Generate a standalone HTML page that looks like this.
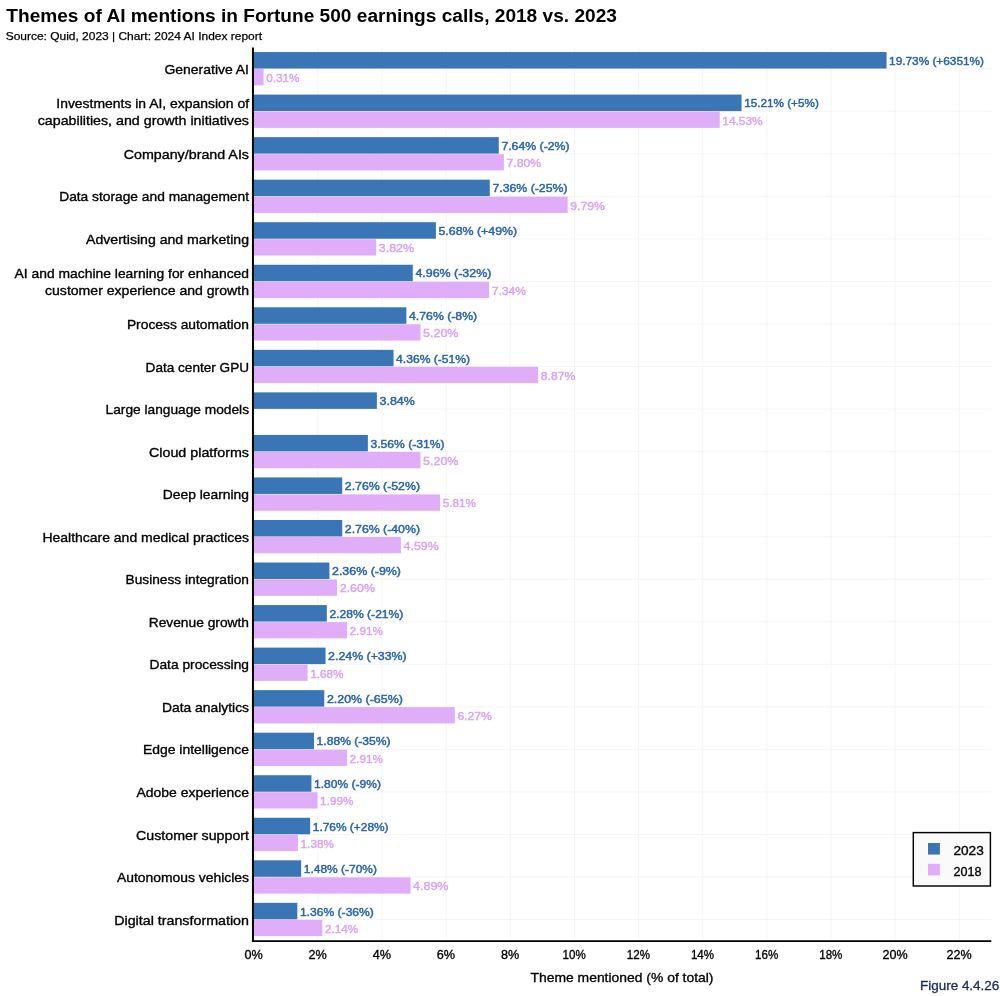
<!DOCTYPE html>
<html lang="en"><head><meta charset="utf-8"><title>Themes of AI mentions in Fortune 500 earnings calls, 2018 vs. 2023</title>
<style>
html,body{margin:0;padding:0;background:#fff;}
svg{display:block;}
text{font-family:"Liberation Sans",Arial,Helvetica,sans-serif;fill:#000;}
.title{font-size:18.8px;font-weight:bold;}
.sub{font-size:11.5px;stroke:#000;stroke-width:0.25px;}
.yl{font-size:13.5px;text-anchor:end;stroke:#000;stroke-width:0.35px;}
.xt{font-size:12.5px;text-anchor:middle;stroke:#000;stroke-width:0.33px;}
.xl{font-size:13.5px;text-anchor:middle;stroke:#000;stroke-width:0.33px;}
.vb{font-size:11.8px;fill:#2563ad;stroke:#2563ad;stroke-width:0.45px;}
.vp{font-size:11.8px;fill:#d99ff8;stroke:#d99ff8;stroke-width:0.4px;}
.lg{font-size:12.5px;stroke:#000;stroke-width:0.33px;}
.fig{font-size:13.4px;fill:#1b2a52;stroke:#1b2a52;stroke-width:0.3px;text-anchor:end;}
</style></head><body>
<svg width="1000" height="996" viewBox="0 0 1000 996">
<rect x="0" y="0" width="1000" height="996" fill="#ffffff"/>
<text class="title" x="6.3" y="22.3" textLength="610.6" lengthAdjust="spacingAndGlyphs">Themes of AI mentions in Fortune 500 earnings calls, 2018 vs. 2023</text>
<text class="sub" x="5.7" y="40.0" textLength="256.3" lengthAdjust="spacingAndGlyphs">Source: Quid, 2023 | Chart: 2024 AI Index report</text>
<g stroke="#f5f5f5" stroke-width="1" fill="none">
<line x1="317.85" y1="47.5" x2="317.85" y2="941.0"/>
<line x1="382.00" y1="47.5" x2="382.00" y2="941.0"/>
<line x1="446.15" y1="47.5" x2="446.15" y2="941.0"/>
<line x1="510.30" y1="47.5" x2="510.30" y2="941.0"/>
<line x1="574.45" y1="47.5" x2="574.45" y2="941.0"/>
<line x1="638.60" y1="47.5" x2="638.60" y2="941.0"/>
<line x1="702.75" y1="47.5" x2="702.75" y2="941.0"/>
<line x1="766.90" y1="47.5" x2="766.90" y2="941.0"/>
<line x1="831.05" y1="47.5" x2="831.05" y2="941.0"/>
<line x1="895.20" y1="47.5" x2="895.20" y2="941.0"/>
<line x1="959.35" y1="47.5" x2="959.35" y2="941.0"/>
<line x1="253.7" y1="68.75" x2="991.2" y2="68.75"/>
<line x1="253.7" y1="111.29" x2="991.2" y2="111.29"/>
<line x1="253.7" y1="153.83" x2="991.2" y2="153.83"/>
<line x1="253.7" y1="196.37" x2="991.2" y2="196.37"/>
<line x1="253.7" y1="238.91" x2="991.2" y2="238.91"/>
<line x1="253.7" y1="281.45" x2="991.2" y2="281.45"/>
<line x1="253.7" y1="323.99" x2="991.2" y2="323.99"/>
<line x1="253.7" y1="366.53" x2="991.2" y2="366.53"/>
<line x1="253.7" y1="409.07" x2="991.2" y2="409.07"/>
<line x1="253.7" y1="451.61" x2="991.2" y2="451.61"/>
<line x1="253.7" y1="494.15" x2="991.2" y2="494.15"/>
<line x1="253.7" y1="536.69" x2="991.2" y2="536.69"/>
<line x1="253.7" y1="579.23" x2="991.2" y2="579.23"/>
<line x1="253.7" y1="621.77" x2="991.2" y2="621.77"/>
<line x1="253.7" y1="664.31" x2="991.2" y2="664.31"/>
<line x1="253.7" y1="706.85" x2="991.2" y2="706.85"/>
<line x1="253.7" y1="749.39" x2="991.2" y2="749.39"/>
<line x1="253.7" y1="791.93" x2="991.2" y2="791.93"/>
<line x1="253.7" y1="834.47" x2="991.2" y2="834.47"/>
<line x1="253.7" y1="877.01" x2="991.2" y2="877.01"/>
<line x1="253.7" y1="919.55" x2="991.2" y2="919.55"/>
</g>
<g>
<rect x="253.70" y="52.05" width="632.84" height="16.50" fill="#3a76b5"/>
<rect x="253.70" y="69.05" width="9.94" height="16.30" fill="#e0aef8"/>
<rect x="253.70" y="94.59" width="487.86" height="16.50" fill="#3a76b5"/>
<rect x="253.70" y="111.59" width="466.05" height="16.30" fill="#e0aef8"/>
<rect x="253.70" y="137.13" width="245.05" height="16.50" fill="#3a76b5"/>
<rect x="253.70" y="154.13" width="250.19" height="16.30" fill="#e0aef8"/>
<rect x="253.70" y="179.67" width="236.07" height="16.50" fill="#3a76b5"/>
<rect x="253.70" y="196.67" width="314.01" height="16.30" fill="#e0aef8"/>
<rect x="253.70" y="222.21" width="182.19" height="16.50" fill="#3a76b5"/>
<rect x="253.70" y="239.21" width="122.53" height="16.30" fill="#e0aef8"/>
<rect x="253.70" y="264.75" width="159.09" height="16.50" fill="#3a76b5"/>
<rect x="253.70" y="281.75" width="235.43" height="16.30" fill="#e0aef8"/>
<rect x="253.70" y="307.29" width="152.68" height="16.50" fill="#3a76b5"/>
<rect x="253.70" y="324.29" width="166.79" height="16.30" fill="#e0aef8"/>
<rect x="253.70" y="349.83" width="139.85" height="16.50" fill="#3a76b5"/>
<rect x="253.70" y="366.83" width="284.51" height="16.30" fill="#e0aef8"/>
<rect x="253.70" y="392.37" width="123.17" height="16.50" fill="#3a76b5"/>
<rect x="253.70" y="434.91" width="114.19" height="16.50" fill="#3a76b5"/>
<rect x="253.70" y="451.91" width="166.79" height="16.30" fill="#e0aef8"/>
<rect x="253.70" y="477.45" width="88.53" height="16.50" fill="#3a76b5"/>
<rect x="253.70" y="494.45" width="186.36" height="16.30" fill="#e0aef8"/>
<rect x="253.70" y="519.99" width="88.53" height="16.50" fill="#3a76b5"/>
<rect x="253.70" y="536.99" width="147.22" height="16.30" fill="#e0aef8"/>
<rect x="253.70" y="562.53" width="75.70" height="16.50" fill="#3a76b5"/>
<rect x="253.70" y="579.53" width="83.40" height="16.30" fill="#e0aef8"/>
<rect x="253.70" y="605.07" width="73.13" height="16.50" fill="#3a76b5"/>
<rect x="253.70" y="622.07" width="93.34" height="16.30" fill="#e0aef8"/>
<rect x="253.70" y="647.61" width="71.85" height="16.50" fill="#3a76b5"/>
<rect x="253.70" y="664.61" width="53.89" height="16.30" fill="#e0aef8"/>
<rect x="253.70" y="690.15" width="70.57" height="16.50" fill="#3a76b5"/>
<rect x="253.70" y="707.15" width="201.11" height="16.30" fill="#e0aef8"/>
<rect x="253.70" y="732.69" width="60.30" height="16.50" fill="#3a76b5"/>
<rect x="253.70" y="749.69" width="93.34" height="16.30" fill="#e0aef8"/>
<rect x="253.70" y="775.23" width="57.74" height="16.50" fill="#3a76b5"/>
<rect x="253.70" y="792.23" width="63.83" height="16.30" fill="#e0aef8"/>
<rect x="253.70" y="817.77" width="56.45" height="16.50" fill="#3a76b5"/>
<rect x="253.70" y="834.77" width="44.26" height="16.30" fill="#e0aef8"/>
<rect x="253.70" y="860.31" width="47.47" height="16.50" fill="#3a76b5"/>
<rect x="253.70" y="877.31" width="156.85" height="16.30" fill="#e0aef8"/>
<rect x="253.70" y="902.85" width="43.62" height="16.50" fill="#3a76b5"/>
<rect x="253.70" y="919.85" width="68.64" height="16.30" fill="#e0aef8"/>
</g>
<g stroke="#000" fill="none" stroke-linecap="butt">
<line x1="252.95" y1="47.4" x2="252.95" y2="942.05" stroke-width="2"/>
<line x1="251.95" y1="941.15" x2="991.3" y2="941.15" stroke-width="1.85"/>
</g>
<g>
<text class="yl" x="249.0" y="73.8" textLength="84.5" lengthAdjust="spacingAndGlyphs">Generative AI</text>
<text class="yl" x="249.0" y="108.0" textLength="192.7" lengthAdjust="spacingAndGlyphs">Investments in AI, expansion of</text>
<text class="yl" x="249.0" y="124.6" textLength="211.3" lengthAdjust="spacingAndGlyphs">capabilities, and growth initiatives</text>
<text class="yl" x="249.0" y="158.8" textLength="125.3" lengthAdjust="spacingAndGlyphs">Company/brand AIs</text>
<text class="yl" x="249.0" y="201.4" textLength="189.8" lengthAdjust="spacingAndGlyphs">Data storage and management</text>
<text class="yl" x="249.0" y="243.9" textLength="163.0" lengthAdjust="spacingAndGlyphs">Advertising and marketing</text>
<text class="yl" x="249.0" y="278.1" textLength="234.4" lengthAdjust="spacingAndGlyphs">AI and machine learning for enhanced</text>
<text class="yl" x="249.0" y="294.8" textLength="204.0" lengthAdjust="spacingAndGlyphs">customer experience and growth</text>
<text class="yl" x="249.0" y="329.0" textLength="122.1" lengthAdjust="spacingAndGlyphs">Process automation</text>
<text class="yl" x="249.0" y="371.5" textLength="103.4" lengthAdjust="spacingAndGlyphs">Data center GPU</text>
<text class="yl" x="249.0" y="414.1" textLength="143.4" lengthAdjust="spacingAndGlyphs">Large language models</text>
<text class="yl" x="249.0" y="456.6" textLength="100.0" lengthAdjust="spacingAndGlyphs">Cloud platforms</text>
<text class="yl" x="249.0" y="499.1" textLength="86.2" lengthAdjust="spacingAndGlyphs">Deep learning</text>
<text class="yl" x="249.0" y="541.7" textLength="206.6" lengthAdjust="spacingAndGlyphs">Healthcare and medical practices</text>
<text class="yl" x="249.0" y="584.2" textLength="123.4" lengthAdjust="spacingAndGlyphs">Business integration</text>
<text class="yl" x="249.0" y="626.8" textLength="100.3" lengthAdjust="spacingAndGlyphs">Revenue growth</text>
<text class="yl" x="249.0" y="669.3" textLength="99.5" lengthAdjust="spacingAndGlyphs">Data processing</text>
<text class="yl" x="249.0" y="711.9" textLength="87.0" lengthAdjust="spacingAndGlyphs">Data analytics</text>
<text class="yl" x="249.0" y="754.4" textLength="106.0" lengthAdjust="spacingAndGlyphs">Edge intelligence</text>
<text class="yl" x="249.0" y="796.9" textLength="112.5" lengthAdjust="spacingAndGlyphs">Adobe experience</text>
<text class="yl" x="249.0" y="839.5" textLength="113.0" lengthAdjust="spacingAndGlyphs">Customer support</text>
<text class="yl" x="249.0" y="882.0" textLength="132.0" lengthAdjust="spacingAndGlyphs">Autonomous vehicles</text>
<text class="yl" x="249.0" y="924.5" textLength="134.8" lengthAdjust="spacingAndGlyphs">Digital transformation</text>
</g>
<g>
<text class="vb" x="889.1" y="64.8" textLength="94.9" lengthAdjust="spacingAndGlyphs">19.73% (+6351%)</text>
<text class="vp" x="266.2" y="82.0" textLength="33.3" lengthAdjust="spacingAndGlyphs">0.31%</text>
<text class="vb" x="744.2" y="107.3" textLength="74.6" lengthAdjust="spacingAndGlyphs">15.21% (+5%)</text>
<text class="vp" x="722.3" y="124.5" textLength="40.3" lengthAdjust="spacingAndGlyphs">14.53%</text>
<text class="vb" x="501.4" y="149.8" textLength="68.2" lengthAdjust="spacingAndGlyphs">7.64% (-2%)</text>
<text class="vp" x="506.5" y="167.0" textLength="34.5" lengthAdjust="spacingAndGlyphs">7.80%</text>
<text class="vb" x="492.4" y="192.4" textLength="75.2" lengthAdjust="spacingAndGlyphs">7.36% (-25%)</text>
<text class="vp" x="570.3" y="209.6" textLength="34.5" lengthAdjust="spacingAndGlyphs">9.79%</text>
<text class="vb" x="438.5" y="234.9" textLength="78.6" lengthAdjust="spacingAndGlyphs">5.68% (+49%)</text>
<text class="vp" x="378.8" y="252.1" textLength="35.3" lengthAdjust="spacingAndGlyphs">3.82%</text>
<text class="vb" x="415.4" y="277.4" textLength="76.0" lengthAdjust="spacingAndGlyphs">4.96% (-32%)</text>
<text class="vp" x="491.7" y="294.6" textLength="34.5" lengthAdjust="spacingAndGlyphs">7.34%</text>
<text class="vb" x="409.0" y="320.0" textLength="68.2" lengthAdjust="spacingAndGlyphs">4.76% (-8%)</text>
<text class="vp" x="423.1" y="337.2" textLength="35.3" lengthAdjust="spacingAndGlyphs">5.20%</text>
<text class="vb" x="396.1" y="362.5" textLength="74.0" lengthAdjust="spacingAndGlyphs">4.36% (-51%)</text>
<text class="vp" x="540.8" y="379.7" textLength="34.5" lengthAdjust="spacingAndGlyphs">8.87%</text>
<text class="vb" x="379.5" y="405.1" textLength="35.3" lengthAdjust="spacingAndGlyphs">3.84%</text>
<text class="vb" x="370.5" y="447.6" textLength="74.0" lengthAdjust="spacingAndGlyphs">3.56% (-31%)</text>
<text class="vp" x="423.1" y="464.8" textLength="35.3" lengthAdjust="spacingAndGlyphs">5.20%</text>
<text class="vb" x="344.8" y="490.1" textLength="75.2" lengthAdjust="spacingAndGlyphs">2.76% (-52%)</text>
<text class="vp" x="442.7" y="507.3" textLength="33.3" lengthAdjust="spacingAndGlyphs">5.81%</text>
<text class="vb" x="344.8" y="532.7" textLength="75.2" lengthAdjust="spacingAndGlyphs">2.76% (-40%)</text>
<text class="vp" x="403.5" y="549.9" textLength="35.3" lengthAdjust="spacingAndGlyphs">4.59%</text>
<text class="vb" x="332.0" y="575.2" textLength="69.0" lengthAdjust="spacingAndGlyphs">2.36% (-9%)</text>
<text class="vp" x="339.7" y="592.4" textLength="35.3" lengthAdjust="spacingAndGlyphs">2.60%</text>
<text class="vb" x="329.4" y="617.8" textLength="74.0" lengthAdjust="spacingAndGlyphs">2.28% (-21%)</text>
<text class="vp" x="349.6" y="635.0" textLength="33.3" lengthAdjust="spacingAndGlyphs">2.91%</text>
<text class="vb" x="328.1" y="660.3" textLength="78.6" lengthAdjust="spacingAndGlyphs">2.24% (+33%)</text>
<text class="vp" x="310.2" y="677.5" textLength="33.3" lengthAdjust="spacingAndGlyphs">1.68%</text>
<text class="vb" x="326.9" y="702.9" textLength="76.0" lengthAdjust="spacingAndGlyphs">2.20% (-65%)</text>
<text class="vp" x="457.4" y="720.1" textLength="34.5" lengthAdjust="spacingAndGlyphs">6.27%</text>
<text class="vb" x="316.6" y="745.4" textLength="74.0" lengthAdjust="spacingAndGlyphs">1.88% (-35%)</text>
<text class="vp" x="349.6" y="762.6" textLength="33.3" lengthAdjust="spacingAndGlyphs">2.91%</text>
<text class="vb" x="314.0" y="787.9" textLength="67.0" lengthAdjust="spacingAndGlyphs">1.80% (-9%)</text>
<text class="vp" x="320.1" y="805.1" textLength="33.3" lengthAdjust="spacingAndGlyphs">1.99%</text>
<text class="vb" x="312.8" y="830.5" textLength="75.8" lengthAdjust="spacingAndGlyphs">1.76% (+28%)</text>
<text class="vp" x="300.6" y="847.7" textLength="33.3" lengthAdjust="spacingAndGlyphs">1.38%</text>
<text class="vb" x="303.8" y="873.0" textLength="73.2" lengthAdjust="spacingAndGlyphs">1.48% (-70%)</text>
<text class="vp" x="413.1" y="890.2" textLength="35.3" lengthAdjust="spacingAndGlyphs">4.89%</text>
<text class="vb" x="299.9" y="915.5" textLength="74.0" lengthAdjust="spacingAndGlyphs">1.36% (-36%)</text>
<text class="vp" x="324.9" y="932.8" textLength="33.3" lengthAdjust="spacingAndGlyphs">2.14%</text>
</g>
<g>
<text class="xt" x="253.5" y="958.8" textLength="18.2" lengthAdjust="spacingAndGlyphs">0%</text>
<text class="xt" x="317.7" y="958.8" textLength="18.2" lengthAdjust="spacingAndGlyphs">2%</text>
<text class="xt" x="381.8" y="958.8" textLength="18.2" lengthAdjust="spacingAndGlyphs">4%</text>
<text class="xt" x="445.9" y="958.8" textLength="18.2" lengthAdjust="spacingAndGlyphs">6%</text>
<text class="xt" x="510.1" y="958.8" textLength="18.2" lengthAdjust="spacingAndGlyphs">8%</text>
<text class="xt" x="574.2" y="958.8" textLength="23.2" lengthAdjust="spacingAndGlyphs">10%</text>
<text class="xt" x="638.4" y="958.8" textLength="23.2" lengthAdjust="spacingAndGlyphs">12%</text>
<text class="xt" x="702.5" y="958.8" textLength="23.2" lengthAdjust="spacingAndGlyphs">14%</text>
<text class="xt" x="766.7" y="958.8" textLength="23.2" lengthAdjust="spacingAndGlyphs">16%</text>
<text class="xt" x="830.8" y="958.8" textLength="23.2" lengthAdjust="spacingAndGlyphs">18%</text>
<text class="xt" x="895.0" y="958.8" textLength="25.2" lengthAdjust="spacingAndGlyphs">20%</text>
<text class="xt" x="959.2" y="958.8" textLength="25.2" lengthAdjust="spacingAndGlyphs">22%</text>
</g>
<text class="xl" x="622" y="982.0" textLength="183.0" lengthAdjust="spacingAndGlyphs">Theme mentioned (% of total)</text>
<text class="fig" x="999.3" y="990.2" textLength="79.3" lengthAdjust="spacingAndGlyphs">Figure 4.4.26</text>
<rect x="913.3" y="832.6" width="77.1" height="53.4" fill="#fafafa" stroke="#000" stroke-width="1.45"/>
<rect x="928" y="843" width="11.9" height="11.6" fill="#3a76b5"/>
<rect x="928" y="863.8" width="11.9" height="11.6" fill="#e0aef8"/>
<text class="lg" x="953.4" y="854.6" textLength="30.4" lengthAdjust="spacingAndGlyphs">2023</text>
<text class="lg" x="953.4" y="875.5" textLength="28.0" lengthAdjust="spacingAndGlyphs">2018</text>
</svg>
</body></html>
